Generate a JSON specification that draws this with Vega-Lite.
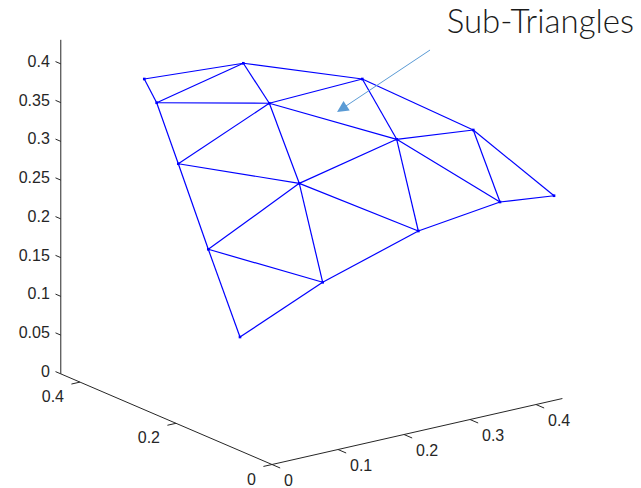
{
  "$schema": "https://vega.github.io/schema/vega-lite/v6.json",
  "width": 641,
  "height": 488,
  "padding": 0,
  "autosize": {"type": "none"},
  "background": "white",
  "config": {"view": {"stroke": null}},
  "datasets": {
    "nodes": [
      {"id": "A", "u": -0.1648, "v": 0.4974},
      {"id": "B", "u": -0.0370, "v": 0.5177},
      {"id": "C", "u": 0.1165, "v": 0.4974},
      {"id": "I", "u": 0.2597, "v": 0.4316},
      {"id": "J", "u": 0.3639, "v": 0.3468},
      {"id": "D", "u": -0.1488, "v": 0.4668},
      {"id": "E", "u": -0.0035, "v": 0.4661},
      {"id": "F", "u": 0.1609, "v": 0.4196},
      {"id": "K", "u": 0.2942, "v": 0.3387},
      {"id": "G", "u": -0.1209, "v": 0.3881},
      {"id": "H", "u": 0.0352, "v": 0.3628},
      {"id": "L", "u": 0.1888, "v": 0.3013},
      {"id": "M", "u": -0.0822, "v": 0.2777},
      {"id": "N", "u": 0.0654, "v": 0.2351},
      {"id": "O", "u": -0.0413, "v": 0.1645}
    ],
    "edges": [
      {"a": "A", "b": "B"}, {"a": "B", "b": "C"}, {"a": "C", "b": "I"}, {"a": "I", "b": "J"},
      {"a": "D", "b": "E"}, {"a": "E", "b": "F"}, {"a": "F", "b": "K"},
      {"a": "G", "b": "H"}, {"a": "H", "b": "L"}, {"a": "M", "b": "N"},
      {"a": "A", "b": "D"}, {"a": "D", "b": "G"}, {"a": "G", "b": "M"}, {"a": "M", "b": "O"},
      {"a": "B", "b": "E"}, {"a": "E", "b": "H"}, {"a": "H", "b": "N"},
      {"a": "C", "b": "F"}, {"a": "F", "b": "L"}, {"a": "I", "b": "K"},
      {"a": "B", "b": "D"}, {"a": "C", "b": "E"}, {"a": "E", "b": "G"}, {"a": "I", "b": "F"},
      {"a": "F", "b": "H"}, {"a": "H", "b": "M"}, {"a": "J", "b": "K"}, {"a": "K", "b": "L"},
      {"a": "L", "b": "N"}, {"a": "N", "b": "O"}
    ],
    "axes3d": [
      {"x": 0, "y": 0, "z": 0, "x2": 0.44, "y2": 0, "z2": 0},
      {"x": 0, "y": 0, "z": 0, "x2": 0, "y2": 0.44, "z2": 0},
      {"x": 0, "y": 0.44, "z": 0, "x2": 0, "y2": 0.44, "z2": 0.431}
    ],
    "zTicks": [
      {"z": 0, "label": "0"}, {"z": 0.05, "label": "0.05"}, {"z": 0.1, "label": "0.1"},
      {"z": 0.15, "label": "0.15"}, {"z": 0.2, "label": "0.2"}, {"z": 0.25, "label": "0.25"},
      {"z": 0.3, "label": "0.3"}, {"z": 0.35, "label": "0.35"}, {"z": 0.4, "label": "0.4"}
    ],
    "yTicks": [
      {"y": 0, "label": "0"}, {"y": 0.2, "label": "0.2"}, {"y": 0.4, "label": "0.4"}
    ],
    "xTicks": [
      {"x": 0, "label": "0"}, {"x": 0.1, "label": "0.1"}, {"x": 0.2, "label": "0.2"},
      {"x": 0.3, "label": "0.3"}, {"x": 0.4, "label": "0.4"}
    ],
    "note": [{"u": 0.2254, "v": 0.5574, "text": "Sub-Triangles"}],
    "pointer": [{"u": 0.2039, "v": 0.5348, "u2": 0.0901, "v2": 0.4590}]
  },
  "encoding": {
    "x": {"field": "u", "type": "quantitative", "scale": {"domain": [-0.35097, 0.47613], "nice": false, "zero": false}, "axis": null},
    "y": {"field": "v", "type": "quantitative", "scale": {"domain": [-0.03032, 0.59935], "nice": false, "zero": false}, "axis": null}
  },
  "layer": [
    {
      "data": {"name": "axes3d"},
      "transform": [
        {"calculate": "0.8516*datum.x - 0.6194*datum.y", "as": "u"},
        {"calculate": "0.1935*datum.x + 0.2658*datum.y + datum.z", "as": "v"},
        {"calculate": "0.8516*datum.x2 - 0.6194*datum.y2", "as": "u2"},
        {"calculate": "0.1935*datum.x2 + 0.2658*datum.y2 + datum.z2", "as": "v2"}
      ],
      "mark": {"type": "rule", "color": "#262626", "strokeWidth": 1},
      "encoding": {"x2": {"field": "u2"}, "y2": {"field": "v2"}}
    },
    {
      "data": {"name": "zTicks"},
      "transform": [
        {"calculate": "-0.6194*0.44", "as": "u"},
        {"calculate": "0.2658*0.44 + datum.z", "as": "v"},
        {"calculate": "-0.6194*0.451", "as": "u2"},
        {"calculate": "0.2658*0.451 + datum.z", "as": "v2"}
      ],
      "mark": {"type": "rule", "color": "#262626", "strokeWidth": 1},
      "encoding": {"x2": {"field": "u2"}, "y2": {"field": "v2"}}
    },
    {
      "data": {"name": "zTicks"},
      "transform": [
        {"calculate": "-0.6194*0.44", "as": "u"},
        {"calculate": "0.2658*0.44 + datum.z", "as": "v"}
      ],
      "mark": {"type": "text", "align": "right", "baseline": "middle", "dx": -11, "dy": -2, "font": "Liberation Sans", "fontSize": 16, "color": "#262626"},
      "encoding": {"text": {"field": "label"}}
    },
    {
      "data": {"name": "yTicks"},
      "transform": [
        {"calculate": "-0.6194*datum.y", "as": "u"},
        {"calculate": "0.2658*datum.y", "as": "v"},
        {"calculate": "0.8516*(-0.013) - 0.6194*datum.y", "as": "u2"},
        {"calculate": "0.1935*(-0.013) + 0.2658*datum.y", "as": "v2"}
      ],
      "mark": {"type": "rule", "color": "#262626", "strokeWidth": 1},
      "encoding": {"x2": {"field": "u2"}, "y2": {"field": "v2"}}
    },
    {
      "data": {"name": "yTicks"},
      "transform": [
        {"calculate": "-0.6194*datum.y", "as": "u"},
        {"calculate": "0.2658*datum.y", "as": "v"}
      ],
      "mark": {"type": "text", "align": "right", "baseline": "middle", "dx": -16, "dy": 15, "font": "Liberation Sans", "fontSize": 16, "color": "#262626"},
      "encoding": {"text": {"field": "label"}}
    },
    {
      "data": {"name": "xTicks"},
      "transform": [
        {"calculate": "0.8516*datum.x", "as": "u"},
        {"calculate": "0.1935*datum.x", "as": "v"},
        {"calculate": "0.8516*datum.x + 0.6194*0.017", "as": "u2"},
        {"calculate": "0.1935*datum.x - 0.2658*0.017", "as": "v2"}
      ],
      "mark": {"type": "rule", "color": "#262626", "strokeWidth": 1},
      "encoding": {"x2": {"field": "u2"}, "y2": {"field": "v2"}}
    },
    {
      "data": {"name": "xTicks"},
      "transform": [
        {"calculate": "0.8516*datum.x", "as": "u"},
        {"calculate": "0.1935*datum.x", "as": "v"}
      ],
      "mark": {"type": "text", "align": "left", "baseline": "middle", "dx": 12, "dy": 16, "font": "Liberation Sans", "fontSize": 16, "color": "#262626"},
      "encoding": {"text": {"field": "label"}}
    },
    {
      "data": {"name": "edges"},
      "transform": [
        {"lookup": "a", "from": {"data": {"name": "nodes"}, "key": "id", "fields": ["u", "v"]}, "as": ["u", "v"]},
        {"lookup": "b", "from": {"data": {"name": "nodes"}, "key": "id", "fields": ["u", "v"]}, "as": ["u2", "v2"]}
      ],
      "mark": {"type": "rule", "color": "#0000ff", "strokeWidth": 1.2},
      "encoding": {"x2": {"field": "u2"}, "y2": {"field": "v2"}}
    },
    {
      "data": {"name": "nodes"},
      "mark": {"type": "point", "shape": "square", "filled": true, "size": 7, "color": "#0000ff", "opacity": 1}
    },
    {
      "data": {"name": "pointer"},
      "mark": {"type": "rule", "color": "#5b9bd5", "strokeWidth": 1},
      "encoding": {"x2": {"field": "u2"}, "y2": {"field": "v2"}}
    },
    {
      "data": {"name": "pointer"},
      "mark": {"type": "point", "shape": "M0,-1L-1,1L1,1Z", "angle": 237, "size": 130, "filled": true, "color": "#5b9bd5", "opacity": 1},
      "encoding": {
        "x": {"field": "u2", "type": "quantitative"},
        "y": {"field": "v2", "type": "quantitative"}
      }
    },
    {
      "data": {"name": "note"},
      "mark": {"type": "text", "align": "left", "baseline": "alphabetic", "font": "Lato", "fontWeight": 300, "fontSize": 33, "color": "#1a1a1a"},
      "encoding": {"text": {"field": "text"}}
    }
  ]
}
